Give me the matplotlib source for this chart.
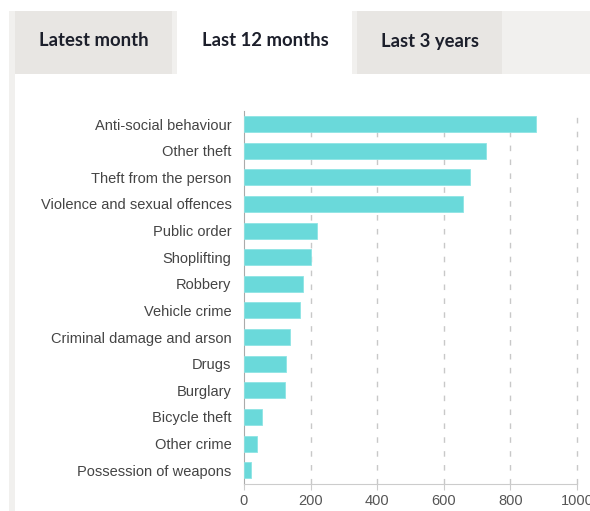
import matplotlib.pyplot as plt
from matplotlib.patches import Rectangle

# crime counts, last 12 months
categories = [
    "Anti-social behaviour",
    "Other theft",
    "Theft from the person",
    "Violence and sexual offences",
    "Public order",
    "Shoplifting",
    "Robbery",
    "Vehicle crime",
    "Criminal damage and arson",
    "Drugs",
    "Burglary",
    "Bicycle theft",
    "Other crime",
    "Possession of weapons",
]
values = [876, 726, 678, 657, 219, 202, 178, 169, 138, 126, 124, 55, 39, 22]
x_ticks = [0, 200, 400, 600, 800, 1000]
tabs = ["Latest month", "Last 12 months", "Last 3 years"]

W, H = 590, 511
BAR = "#6ad9da"
DARK_TAB = "#e8e6e3"
LIGHT_TAB = "#f1f0ee"


def px_rect(x0, y0, x1, y1, color):
    """Rectangle in pixel coords (origin top-left) -> figure fraction."""
    return Rectangle((x0 / W, 1 - y1 / H), (x1 - x0) / W, (y1 - y0) / H,
                     transform=fig.transFigure, facecolor=color,
                     edgecolor="none", zorder=0)


fig = plt.figure(figsize=(W / 100, H / 100), dpi=100, facecolor="white")

# page chrome: left strip and tab bar
fig.add_artist(px_rect(9, 11, 15, H, LIGHT_TAB))
fig.add_artist(px_rect(15, 11, 172, 74, DARK_TAB))
fig.add_artist(px_rect(172, 11, 177, 74, LIGHT_TAB))
fig.add_artist(px_rect(352, 11, 357, 74, LIGHT_TAB))
fig.add_artist(px_rect(357, 11, 502, 74, DARK_TAB))
fig.add_artist(px_rect(502, 11, W, 74, LIGHT_TAB))

for label, cx in zip(tabs, [94, 265, 430]):
    fig.text(cx / W, 1 - 41 / H, label, ha="center", va="center",
             family=["Lato", "DejaVu Sans"], fontweight="bold",
             fontsize=13.3, color="#1c1f2b")

# chart
ax = fig.add_axes([244 / W, 1 - 484 / H, 333 / W, 373 / H])
ypos = list(range(len(categories)))
ax.barh(ypos, values, height=0.6, color=BAR, edgecolor="#8ee4e4",
        linewidth=0.6, zorder=3)

ax.set_xlim(0, 1000)
ax.set_ylim(13.52, -0.49)
ax.set_yticks(ypos)
ax.set_yticklabels(categories, family=["Liberation Sans", "DejaVu Sans"],
                   fontsize=10.5, color="#444444")
ax.set_xticks(x_ticks)
ax.set_xticklabels([str(t) for t in x_ticks],
                   family=["Liberation Sans", "DejaVu Sans"],
                   fontsize=10.5, color="#555555")
ax.tick_params(axis="y", length=0, pad=9)
ax.tick_params(axis="x", length=4, color="#cccccc", pad=3)

for t in x_ticks[1:]:
    ax.axvline(t, color="#c8c8c8", lw=1, linestyle=(0, (4, 6)),
               zorder=1, clip_on=False)

for side in ["top", "right"]:
    ax.spines[side].set_visible(False)
ax.spines["left"].set_color("#aaaaaa")
ax.spines["bottom"].set_color("#cccccc")

fig.savefig("out.png", dpi=100, facecolor="white")
